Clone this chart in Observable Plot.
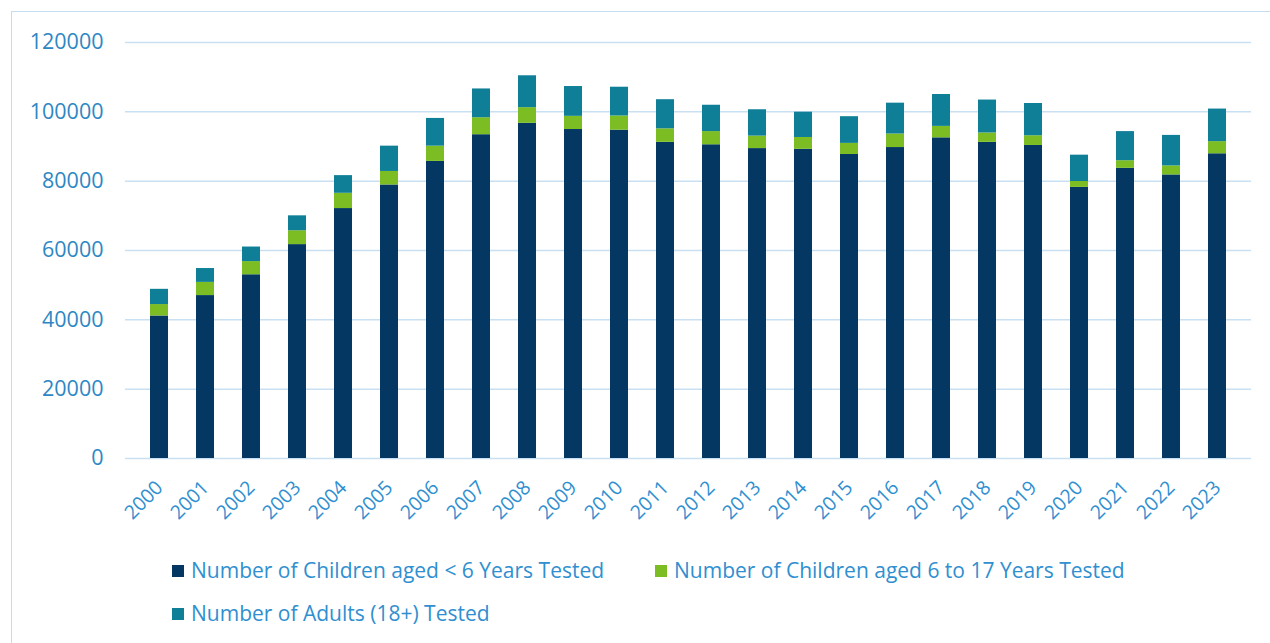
<!DOCTYPE html>
<html>
<head>
<meta charset="utf-8">
<script src="https://cdn.jsdelivr.net/npm/d3@7"></script>
<script src="https://cdn.jsdelivr.net/npm/@observablehq/plot@0.6"></script>
<style>
  html, body { margin: 0; padding: 0; background: #fff; width: 1270px; height: 643px; overflow: hidden; }
  #frame { position: absolute; left: 11px; top: 11px; width: 1300px; height: 700px; border: 1.5px solid #c4ddf3; box-sizing: border-box; }
  #chart { position: absolute; left: 0; top: 0; }
  .legend { position: absolute; font-family: "Open Sans", sans-serif; font-size: 21px; color: #2f8fd0; white-space: nowrap; line-height: 28px; }
  .legend .sw { display: inline-block; width: 12px; height: 12px; margin-right: 7px; vertical-align: 1px; }
</style>
</head>
<body>
<div id="frame"></div>
<div id="chart"></div>
<div id="legend"></div>
<script>
const years = ["2000","2001","2002","2003","2004","2005","2006","2007","2008","2009","2010","2011","2012","2013","2014","2015","2016","2017","2018","2019","2020","2021","2022","2023"];
const under6 = [41100,47000,53000,61700,72100,78900,85700,93400,96700,94900,94700,91200,90500,89400,89200,87700,89700,92500,91200,90300,78200,83700,81800,87900];
const age6to17 = [3300,3800,3800,4000,4400,3900,4400,4900,4500,3800,4100,3900,3800,3600,3400,3200,3900,3300,2700,2800,1700,2200,2600,3500];
const adults = [4400,4000,4200,4300,5100,7300,8000,8300,9200,8600,8300,8400,7600,7600,7300,7700,8900,9200,9500,9300,7600,8400,8800,9400];
const seriesNames = ["Number of Children aged < 6 Years Tested","Number of Children aged 6 to 17 Years Tested","Number of Adults (18+) Tested"];
const seriesColors = ["#043862","#7bbd22","#0f7f98"];
const yTicks = [0,20000,40000,60000,80000,100000,120000];

const data = [];
years.forEach((y, i) => {
  data.push({year: y, series: seriesNames[0], value: under6[i]});
  data.push({year: y, series: seriesNames[1], value: age6to17[i]});
  data.push({year: y, series: seriesNames[2], value: adults[i]});
});

const chart = Plot.plot({
  width: 1270,
  height: 545,
  marginLeft: 125,
  marginRight: 19,
  marginTop: 42,
  marginBottom: 87,
  style: {fontFamily: "'Open Sans', sans-serif", background: "transparent"},
  x: {domain: years, paddingInner: 0.6, paddingOuter: 0.3, label: null},
  y: {domain: [0, 120000], label: null},
  color: {domain: seriesNames, range: seriesColors},
  marks: [
    Plot.gridY(yTicks, {stroke: "#c9dff2", strokeOpacity: 1, strokeWidth: 1.5}),
    Plot.barY(data, {x: "year", y: "value", fill: "series", order: seriesNames}),
    Plot.axisY({ticks: yTicks, tickSize: 0, tickPadding: 22, tickFormat: d => String(d), fontSize: 21.5, fill: "#2d87c4", label: null}),
    Plot.axisX({tickSize: 0, tickRotate: -45, tickPadding: 26, fontSize: 19.5, fill: "#2f8fd0", label: null})
  ]
});
document.getElementById("chart").appendChild(chart);

const legend = document.getElementById("legend");
const positions = [[172, 556], [655, 556], [172, 599]];
seriesNames.forEach((name, i) => {
  const d = document.createElement("div");
  d.className = "legend";
  d.style.left = positions[i][0] + "px";
  d.style.top = positions[i][1] + "px";
  d.innerHTML = `<span class="sw" style="background:${seriesColors[i]}"></span>${name}`;
  legend.appendChild(d);
});
</script>
</body>
</html>
